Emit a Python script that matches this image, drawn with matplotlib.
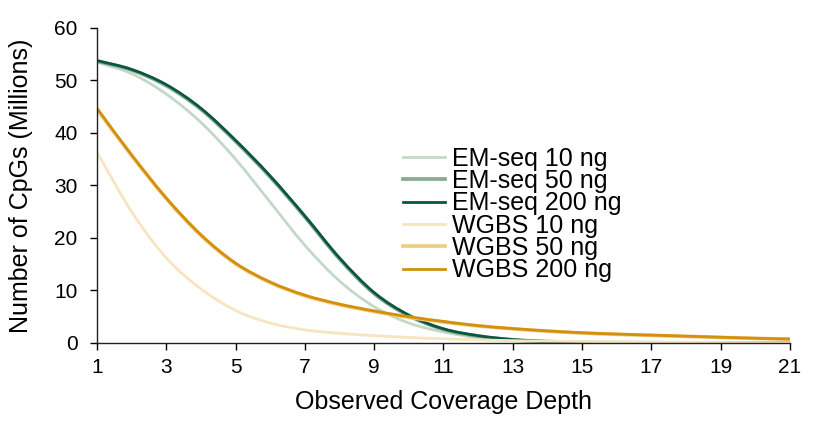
"""CpG coverage curves: EM-seq vs WGBS"""
import matplotlib
matplotlib.use('Agg')
import matplotlib.pyplot as plt
import numpy as np
from matplotlib.path import Path
from matplotlib.patches import PathPatch
from matplotlib.lines import Line2D

plt.rcParams['font.family'] = ['Liberation Sans', 'DejaVu Sans']

depth = list(range(1, 22))

em_10 = [53.5, 51.3, 47.4, 42.0, 35.0, 26.8, 18.6, 11.8, 6.9, 3.8, 2.1,
         1.0, 0.45, 0.2, 0.1, 0.05, 0.03, 0.02, 0.01, 0.01, 0.0]
em_50 = [53.7, 52.0, 49.0, 44.5, 38.4, 31.6, 24.0, 16.0, 9.4, 5.2, 2.6,
         1.3, 0.6, 0.28, 0.12, 0.06, 0.03, 0.02, 0.01, 0.01, 0.0]
em_200 = [53.8, 52.1, 49.2, 44.7, 38.6, 31.8, 24.2, 16.2, 9.6, 5.3, 2.7,
          1.4, 0.65, 0.3, 0.13, 0.06, 0.03, 0.02, 0.01, 0.01, 0.0]
wgbs_10 = [36.3, 25.0, 16.2, 10.3, 6.2, 3.8, 2.5, 1.85, 1.4, 1.05, 0.8,
           0.6, 0.45, 0.35, 0.28, 0.22, 0.17, 0.13, 0.1, 0.08, 0.06]
wgbs_50 = [44.5, 35.7, 27.5, 20.5, 15.1, 11.5, 9.0, 7.3, 6.0, 4.9, 4.0,
           3.25, 2.7, 2.25, 1.9, 1.65, 1.45, 1.25, 1.05, 0.88, 0.73]
wgbs_200 = [44.7, 35.8, 27.6, 20.6, 15.2, 11.6, 9.1, 7.4, 6.1, 5.0, 4.1,
            3.3, 2.75, 2.3, 1.95, 1.7, 1.5, 1.3, 1.1, 0.9, 0.75]

series = [
    ('EM-seq 10 ng', em_10, '#c3d8c7', 2.0),
    ('EM-seq 50 ng', em_50, '#86ab97', 2.7),
    ('EM-seq 200 ng', em_200, '#0b5641', 2.0),
    ('WGBS 10 ng', wgbs_10, '#f6e5bf', 2.0),
    ('WGBS 50 ng', wgbs_50, '#f0cb86', 2.7),
    ('WGBS 200 ng', wgbs_200, '#d3900b', 2.0),
]


def smooth_path(xs, ys):
    # monotone cubic (Fritsch-Carlson) through the points, as bezier segments
    x = np.asarray(xs, float)
    y = np.asarray(ys, float)
    h = np.diff(x)
    d = np.diff(y) / h
    m = np.empty_like(y)
    m[0], m[-1] = d[0], d[-1]
    for k in range(1, len(y) - 1):
        m[k] = 0.0 if d[k - 1] * d[k] <= 0 else (d[k - 1] + d[k]) / 2
    for k in range(len(d)):
        if d[k] == 0:
            m[k] = m[k + 1] = 0.0
            continue
        a, b = m[k] / d[k], m[k + 1] / d[k]
        s = a * a + b * b
        if s > 9:
            t = 3 / np.sqrt(s)
            m[k], m[k + 1] = t * a * d[k], t * b * d[k]
    verts = [(x[0], y[0])]
    codes = [Path.MOVETO]
    for k in range(len(d)):
        verts += [(x[k] + h[k] / 3, y[k] + m[k] * h[k] / 3),
                  (x[k + 1] - h[k] / 3, y[k + 1] - m[k + 1] * h[k] / 3),
                  (x[k + 1], y[k + 1])]
        codes += [Path.CURVE4] * 3
    return Path(verts, codes)


fig = plt.figure(figsize=(8.32, 4.44), dpi=100)
ax = fig.add_axes([0.1166, 0.2275, 0.8329, 0.7095])

handles = []
for label, vals, color, lw in series:
    ax.add_patch(PathPatch(smooth_path(depth, vals), fill=False,
                           edgecolor=color, lw=lw, capstyle='butt'))
    handles.append(Line2D([], [], color=color, lw=lw, label=label))

ax.set_xlim(1, 21)
ax.set_ylim(0, 60)
ax.set_xticks(range(1, 22, 2))
ax.set_yticks(range(0, 61, 10))
ax.tick_params(direction='out', length=5, width=1, labelsize=15)
ax.tick_params(axis='x', pad=6)
ax.tick_params(axis='y', pad=9)
for s in ('top', 'right'):
    ax.spines[s].set_visible(False)
for s in ('left', 'bottom'):
    ax.spines[s].set_linewidth(1)
    ax.spines[s].set_color('#222222')

ax.set_xlabel('Observed Coverage Depth', fontsize=18, labelpad=9)
ax.set_ylabel('Number of CpGs (Millions)', fontsize=18, labelpad=15)

ax.legend(handles=handles, loc='upper left', bbox_to_anchor=(0.484, 0.67),
          bbox_transform=fig.transFigure, frameon=False, fontsize=18,
          handlelength=1.7, handletextpad=0.28, labelspacing=-0.065,
          borderpad=0, borderaxespad=0)

plt.savefig('out.png', dpi=100, facecolor='white')
